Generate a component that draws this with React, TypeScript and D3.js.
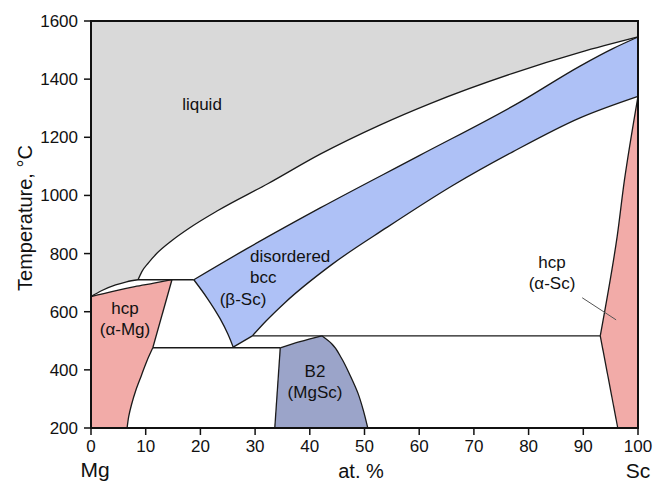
import * as d3 from 'd3';

type Pt = [number, number];

// composition (at.% Sc), temperature (°C)
const liquidusLens: Pt[] = [[0, 652], [2, 673], [4.5, 692], [6.5, 703], [8.6, 710]];
const liquidus: Pt[] = [[8.6, 710], [9.3, 738], [10.5, 768], [12, 800], [14.8, 845], [18, 888], [23.2, 948], [32.4, 1041], [41.9, 1142], [52.8, 1242], [62, 1316], [77.1, 1420], [89.4, 1492], [100, 1545]];
const bccUpper: Pt[] = [[18.8, 710], [28.5, 817], [41.9, 957], [60, 1137], [78.4, 1321], [89.4, 1445], [95.4, 1505], [100, 1545]];
const bccLower: Pt[] = [[29.5, 517], [32, 568], [35.5, 632], [44, 762], [54.1, 890], [66.2, 1035], [77.1, 1150], [89.4, 1267], [100, 1341]];
const bccLeft: Pt[] = [[18.8, 710], [21.2, 648], [23.6, 576], [25, 524], [26, 478]];
const bccBottom: Pt[] = [[26, 478], [29.5, 517]];
const mgSolidus: Pt[] = [[0, 652], [4, 670], [8, 686], [11.5, 698], [14.8, 710]];
const mgRight: Pt[] = [[14.8, 710], [11.3, 476]];
const mgSolvus: Pt[] = [[11.3, 476], [10.2, 430], [9.2, 380], [8.2, 330], [7.4, 280], [6.9, 240], [6.6, 200]];
const b2Left: Pt[] = [[33.6, 200], [34.6, 476]];
const b2Top: Pt[] = [[34.6, 476], [38.2, 497], [42.2, 517]];
const b2Right: Pt[] = [[42.2, 517], [44, 490], [45.8, 440], [47.4, 380], [48.8, 320], [49.8, 260], [50.6, 200]];
const scSolvus: Pt[] = [[100, 1341], [97.5, 1050], [96.2, 860], [93.1, 517]];
const scLow: Pt[] = [[93.1, 517], [96.3, 200]];
const tie710: Pt[] = [[8.6, 710], [18.8, 710]];
const tie476: Pt[] = [[11.3, 476], [34.6, 476]];
const tie517: Pt[] = [[29.5, 517], [93.1, 517]];
const leader: Pt[] = [[89.8, 648], [96, 572]];

const xTicks = [0, 10, 20, 30, 40, 50, 60, 70, 80, 90, 100];
const yTicks = [200, 400, 600, 800, 1000, 1200, 1400, 1600];

const phaseLabels: { lines: string[]; x: number; y: number; anchor: string }[] = [
  { lines: ['liquid'], x: 202, y: 110, anchor: 'middle' },
  { lines: ['disordered', 'bcc'], x: 250, y: 262, anchor: 'start' },
  { lines: ['(β-Sc)'], x: 243, y: 305, anchor: 'middle' },
  { lines: ['hcp', '(α-Mg)'], x: 125, y: 314, anchor: 'middle' },
  { lines: ['B2', '(MgSc)'], x: 315, y: 377, anchor: 'middle' },
  { lines: ['hcp', '(α-Sc)'], x: 552, y: 268, anchor: 'middle' },
];

const FONT = '"Liberation Sans", Arial, Helvetica, sans-serif';

export default function App() {
  const width = 656;
  const height = 483;
  const x = d3.scaleLinear([0, 100], [91, 638]);
  const y = d3.scaleLinear([200, 1600], [428, 21]);

  const byX = d3.line<Pt>().x((d) => x(d[0])).y((d) => y(d[1])).curve(d3.curveMonotoneX);
  const byY = d3.line<Pt>().x((d) => x(d[0])).y((d) => y(d[1])).curve(d3.curveMonotoneY);
  const straight = d3.line<Pt>().x((d) => x(d[0])).y((d) => y(d[1]));

  // curves that run along x are monotone in x, the steep ones in y
  const yCurves = new Set<Pt[]>([bccLeft, mgSolvus, b2Right, scSolvus]);
  const draw = (pts: Pt[], rev = false) => {
    const p = rev ? [...pts].reverse() : pts;
    if (p.length === 2) return straight(p) || '';
    return (yCurves.has(pts) ? byY(p) : byX(p)) || '';
  };
  // join segments into one closed outline
  const region = (parts: string[]) =>
    parts.map((s, i) => (i === 0 ? s : s.replace(/^M/, 'L'))).join('') + 'Z';

  const liquidPath = region([
    straight([[0, 1600], [0, 652]]) || '',
    draw(liquidusLens),
    draw(liquidus),
    straight([[100, 1545], [100, 1600]]) || '',
  ]);
  const bccPath = region([
    draw(bccUpper),
    straight([[100, 1545], [100, 1341]]) || '',
    draw(bccLower, true),
    draw(bccBottom, true),
    draw(bccLeft, true),
  ]);
  const mgPath = region([
    straight([[0, 200], [0, 652]]) || '',
    draw(mgSolidus),
    draw(mgRight),
    draw(mgSolvus),
  ]);
  const b2Path = region([draw(b2Left), draw(b2Top), draw(b2Right)]);
  const scPath = region([draw(scSolvus), draw(scLow), straight([[96.3, 200], [100, 200], [100, 1341]]) || '']);

  const bounds = [liquidusLens, liquidus, bccUpper, bccLower, bccLeft, bccBottom, mgSolidus, mgRight, mgSolvus,
    b2Left, b2Top, b2Right, scSolvus, scLow, tie710, tie476, tie517];

  return (
    <svg width={width} height={height} style={{ position: 'fixed', left: 0, top: 0, background: '#fff' }} fontFamily={FONT}>
      <path d={liquidPath} fill="#d9d9d9" />
      <path d={bccPath} fill="#aec1f6" />
      <path d={mgPath} fill="#f2aba8" />
      <path d={scPath} fill="#f2aba8" />
      <path d={b2Path} fill="#9ba4c9" />
      <g fill="none" stroke="#1a1a1a" strokeWidth={1.3}>
        {bounds.map((c, i) => <path key={i} d={draw(c)} />)}
      </g>
      <path d={straight(leader) || ''} stroke="#555" strokeWidth={1} fill="none" />
      <rect x={x(0)} y={y(1600)} width={x(100) - x(0)} height={y(200) - y(1600)} fill="none" stroke="#111" strokeWidth={2} />
      <g fontSize={17} fill="#111">
        {yTicks.map((t) => (
          <g key={'y' + t}>
            <line x1={x(0) - 7} x2={x(0)} y1={y(t)} y2={y(t)} stroke="#111" strokeWidth={1.5} />
            <text x={x(0) - 13} y={y(t)} dy="0.35em" textAnchor="end">{t}</text>
          </g>
        ))}
        {xTicks.map((t) => (
          <g key={'x' + t}>
            <line x1={x(t)} x2={x(t)} y1={y(200)} y2={y(200) + 7} stroke="#111" strokeWidth={1.5} />
            <text x={x(t)} y={452} textAnchor="middle">{t}</text>
          </g>
        ))}
      </g>
      <g fontSize={17} fill="#111">
        {phaseLabels.map((l, i) => (
          <text key={i} x={l.x} y={l.y} textAnchor={l.anchor}>
            {l.lines.map((s, j) => (
              <tspan key={j} x={l.x} dy={j === 0 ? 0 : 21}>{s}</tspan>
            ))}
          </text>
        ))}
      </g>
      <text transform="translate(32,218) rotate(-90)" textAnchor="middle" fontSize={20} fill="#111">Temperature, °C</text>
      <text x={95} y={477} textAnchor="middle" fontSize={21} fill="#111">Mg</text>
      <text x={361} y={478} textAnchor="middle" fontSize={20} fill="#111">at. %</text>
      <text x={638} y={478} textAnchor="middle" fontSize={21} fill="#111">Sc</text>
    </svg>
  );
}
